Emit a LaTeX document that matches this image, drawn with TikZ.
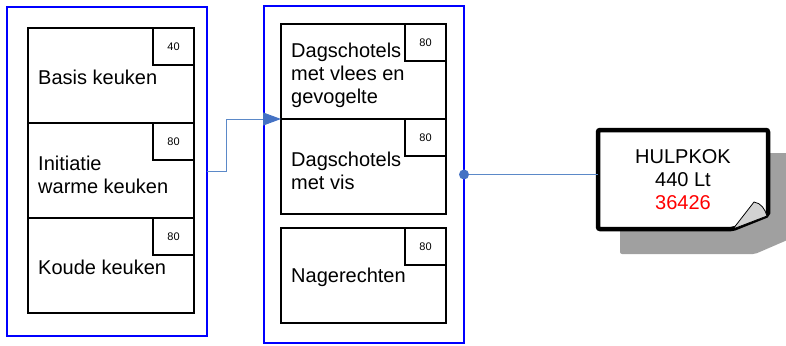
\documentclass[tikz,border=0pt]{standalone}
\usepackage{fontspec}
\setmainfont{Liberation Sans}
\usetikzlibrary{positioning,arrows.meta}
\definecolor{kader}{RGB}{0,0,255}
\definecolor{lijn}{RGB}{91,137,200}
\definecolor{punt}{RGB}{68,114,196}
\definecolor{schaduw}{RGB}{160,160,160}
\definecolor{krul}{RGB}{210,210,210}
\tikzset{
	groep/.style={draw=kader, line width=1.5pt, minimum width=200pt, outer sep=0pt, inner sep=0pt},
	vak/.style={draw, line width=1.8pt, minimum width=166pt, minimum height=95pt, outer sep=0pt, inner sep=0pt},
	aantal/.style={draw, line width=1.5pt, minimum width=41pt, minimum height=37pt, outer sep=0pt, inner sep=0pt, font=\fontsize{11}{13}\selectfont},
	naam/.style={anchor=west, align=left, inner sep=0pt, font=\fontsize{20}{23}\selectfont},
	verbinding/.style={draw=lijn, line width=1pt},
}

\begin{document}
\begin{tikzpicture}[x=1pt,y=-1pt]
	\useasboundingbox (0,0) rectangle (786,345);
	\clip (0,0) rectangle (786,345);
	
	\node[groep, minimum height=329pt] (links) at (107,171.5) {};
	\node[groep, minimum height=337pt] (midden) at (364,174.5) {};
	
	\node[vak] (basis) at (111,75.5) {};
	\node[vak, below=0pt of basis] (initiatie) {};
	\node[vak, below=0pt of initiatie] (koude) {};
	
	\node[vak, minimum width=165pt] (vlees) at (363.5,71.5) {};
	\node[vak, minimum width=165pt, below=0pt of vlees] (vis) {};
	\node[vak, minimum width=165pt, below=14pt of vis] (nagerecht) {};
	
	\foreach \v/\n in {basis/40, initiatie/80, koude/80, vlees/80, vis/80, nagerecht/80}
		\node[aantal, anchor=north east] (\v-n) at (\v.north east) {\n};
	
	\node[naam] (basis-t) at ([xshift=10pt,yshift=-2pt]basis.west) {Basis keuken};
	\node[naam] (initiatie-t) at ([xshift=10pt,yshift=-4pt]initiatie.west) {Initiatie\\warme keuken};
	\node[naam] (koude-t) at ([xshift=10pt,yshift=-2pt]koude.west) {Koude keuken};
	\node[naam] (vlees-t) at ([xshift=10pt,yshift=-4pt]vlees.west) {Dagschotels\\met vlees en\\gevogelte};
	\node[naam] (vis-t) at ([xshift=10pt,yshift=-4pt]vis.west) {Dagschotels\\met vis};
	\node[naam] (nagerecht-t) at ([xshift=10pt,yshift=-2pt]nagerecht.west) {Nagerechten};
	
	\draw[verbinding, -{Triangle[length=18pt,width=13pt,color=punt]}] (links.east) -- ++(19,0) |- (vlees.south west);
	
	\fill[schaduw, rounded corners=2pt] (620,153) -- (792,153) -- (792,238) -- (755,254) -- (620,254) -- cycle;
	\draw[line width=4.5pt, fill=white, rounded corners=2pt] (598,130) -- (768,130) -- (768,215) -- (733,229) -- (598,229) -- cycle;
	\draw[fill=krul, line width=0.8pt] (733,229) -- (754,202) .. controls (761,203) and (765,209) .. (767,216) -- cycle;
	\node[align=center, inner sep=0pt, minimum width=170pt, minimum height=100pt, font=\fontsize{20}{23}\selectfont] (hulpkok) at (683,180) {HULPKOK\\440 Lt\\\textcolor{red}{36426}};
	
	\draw[verbinding] (midden.east) -- (midden.east -| hulpkok.west);
	\fill[punt] (midden.east) circle (5pt);
\end{tikzpicture}
\end{document}
